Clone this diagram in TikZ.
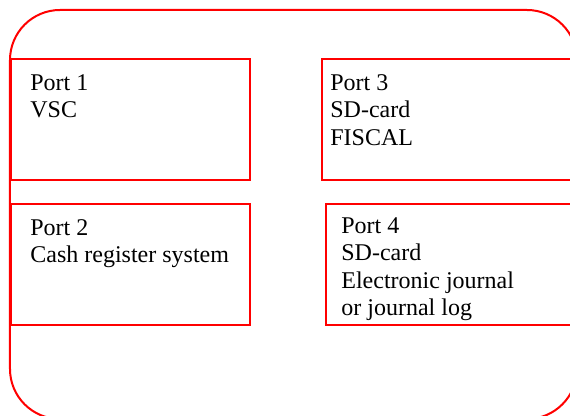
\documentclass[tikz,border=0pt]{standalone}
\usepackage{fontspec}
\setmainfont{Liberation Serif}
\usepackage{tikz}
\usetikzlibrary{positioning}
\definecolor{portred}{HTML}{FF0000}

\begin{document}
\begin{tikzpicture}[x=0.5pt, y=-0.5pt]
  \tikzstyle{portbox}=[draw=portred, line width=1pt, inner sep=0pt,
    anchor=north west]
  \tikzstyle{porttxt}=[inner sep=0pt, align=left,
    font=\fontsize{12pt}{13.75pt}\selectfont]

  \useasboundingbox (0,0) rectangle (570,416);
  \clip (0,0) rectangle (570,416);

  % housing
  \draw[draw=portred, line width=1pt, rounded corners=25pt]
    (10,10) rectangle (577,419);

  \node[portbox, minimum width=119.5pt, minimum height=60.5pt] (box1) at (10,58) {};
  \node[portbox, minimum width=119.5pt, minimum height=60.5pt] (box2) at (10,203) {};
  \node[portbox, minimum width=128pt,   minimum height=60.5pt] (box3) at (321,58) {};
  \node[portbox, minimum width=126pt,   minimum height=60.5pt] (box4) at (325,203) {};

  \node[porttxt, below right=8pt and 10pt of box1.north west] (txt1)
    {Port 1\\VSC};
  \node[porttxt, below right=8pt and 10pt of box2.north west] (txt2)
    {Port 2\\Cash register system};
  \node[porttxt, below right=8pt and 4.5pt of box3.north west] (txt3)
    {Port 3\\SD-card\\FISCAL};
  \node[porttxt, below right=7pt and 8pt of box4.north west] (txt4)
    {Port 4\\SD-card\\Electronic journal\\or journal log};
\end{tikzpicture}
\end{document}
